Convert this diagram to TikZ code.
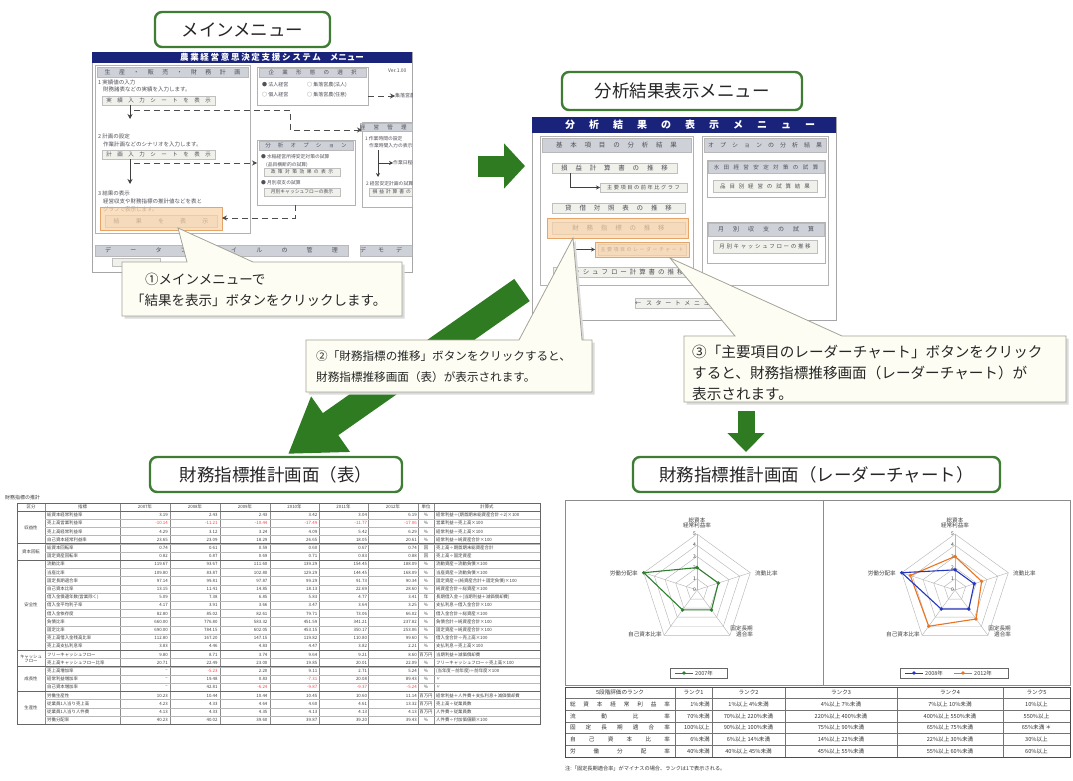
\documentclass[tikz,border=0pt]{standalone}
\usepackage{fontspec}
\setmainfont{Noto Sans CJK JP}
\usetikzlibrary{arrows.meta,calc,shadows}
\definecolor{tgreen}{HTML}{3F7D35}
\definecolor{agreen}{HTML}{2E7B22}
\definecolor{navyc}{HTML}{1A237A}
\definecolor{hdrc}{HTML}{CFD1D8}
\definecolor{btnc}{HTML}{F1F1EC}
\definecolor{orf}{HTML}{F8D3A8}
\definecolor{ord}{HTML}{E6A468}
\definecolor{cream}{HTML}{FDFDF4}
\definecolor{cgray}{HTML}{A3A396}
\definecolor{txg}{HTML}{50505A}
\definecolor{rblue}{HTML}{2536C0}
\definecolor{rorange}{HTML}{EA7420}
\definecolor{rgreen}{HTML}{2F7F2F}
\definecolor{gridc}{HTML}{B8B8B8}
\newcommand\fsz[1]{\fontsize{#1}{#1}\selectfont}
\newcommand\spc[2]{{\addfontfeature{LetterSpace=#1}#2}}
\newcommand\bx[7]{%
 \pgfmathsetmacro\bxw{#5-#3}\pgfmathsetmacro\bxh{#6-#4}%
 \pgfmathsetmacro\bxx{(#3+#5)/2}\pgfmathsetmacro\bxy{(#4+#6)/2}%
 \node[inner sep=0pt, outer sep=0pt, #1, minimum width=\bxw pt, minimum height=\bxh pt] (#2) at (\bxx,\bxy) {#7};}
\def\chkneg#1#2\relax{\ifx-#1\textcolor{red!75}{#1#2}\else#1#2\fi}
\newcommand\negred[1]{\expandafter\chkneg#1\relax}
\newcommand\rpoly[7]{%
 \draw[#2, line width=1.1pt, shift={(#1)}] (-90:{#3*11.2}) -- (-18:{#4*11.2}) -- (54:{#5*11.2}) -- (126:{#6*11.2}) -- (198:{#7*11.2}) -- cycle;
 \foreach \aa/\vv in {-90/#3,-18/#4,54/#5,126/#6,198/#7} \fill[#2, shift={(#1)}] (\aa:{\vv*11.2}) circle (1.9);}
\newcommand\rlabels[3]{%
 \node[rlab, align=center] (#1top) at (#2,#3-67) {総資本\\経常利益率};
 \node[rlab, anchor=west] (#1rt) at (#2+58,#3-17) {流動比率};
 \node[rlab, align=center, anchor=north west] (#1lr) at (#2+33,#3+36) {固定長期\\\hspace*{6pt}適合率};
 \node[rlab, anchor=east] (#1ll) at (#2-35,#3+44) {自己資本比率};
 \node[rlab, anchor=east] (#1lf) at (#2-59,#3-17) {労働分配率};
 \foreach \k in {0,...,5} \node[rlab, anchor=east, font=\fsz{5}] (#1tk\k) at (#2-1,#3-\k*11.2) {\k};}
\begin{document}
\begin{tikzpicture}[x=1pt,y=-1pt,
 title/.style={draw=tgreen, line width=2.4pt, rounded corners=7pt, fill=white, font=\fsz{17.5}, text=black!85},
 shot/.style={draw=gray!70, line width=0.8pt, fill=white},
 panel/.style={draw=gray!60, line width=0.6pt, fill=white},
 hdr/.style={fill=hdrc, draw=gray!55, line width=0.4pt, font=\fsz{6}, text=txg},
 sbtn/.style={fill=btnc, draw=gray!50, line width=0.4pt, font=\fsz{5.5}, text=txg, drop shadow={shadow xshift=0.9pt, shadow yshift=-0.9pt, fill=gray!75, opacity=1}},
 hilite/.style={fill=orf, fill opacity=0.7, draw=ord, line width=0.6pt},
 stxt/.style={font=\fsz{5.5}, text=txg, inner sep=0pt, anchor=west},
 dline/.style={dash pattern=on 6pt off 4pt, line width=0.9pt, draw=black!70},
 sline/.style={line width=0.9pt, draw=black!75},
 callout/.style={draw=cgray, line width=0.8pt, fill=cream},
 ctext/.style={anchor=west, inner sep=0pt, text=black!85},
 tcell/.style={font=\fsz{4.4}, text=black!75, inner sep=0pt},
 rcell/.style={font=\fsz{5.6}, text=black!80, inner sep=0pt},
 grid/.style={draw=gridc, line width=0.45pt},
 rlab/.style={font=\fsz{5.6}, text=black!75, inner sep=0pt},
]
\fill[white] (0,0) rectangle (1073,781);
\useasboundingbox (0,0) rectangle (1073,781);

% ---------- titles
\bx{title}{T1}{155}{12}{330}{47}{メインメニュー}
\bx{title}{T2}{562}{72}{802}{110}{分析結果表示メニュー}
\bx{title}{T3}{150}{457}{402}{492}{財務指標推計画面（表）}
\bx{title}{T4}{633}{457}{1000}{492}{財務指標推計画面（レーダーチャート）}

% ---------- big green arrows
\coordinate (ra1) at (478,166); \coordinate (ra2) at (525,166);
\draw[agreen, line width=21pt, -{Triangle[length=21pt,width=44pt]}] (ra1) -- (ra2);
\coordinate (da1) at (522,290); \coordinate (da2) at (288,454);
\draw[agreen, line width=27pt, -{Triangle[length=52pt,width=64pt]}] (da1) -- (da2);
\coordinate (dn1) at (746,411); \coordinate (dn2) at (746,452);
\draw[agreen, line width=17pt, -{Triangle[length=19pt,width=36pt]}] (dn1) -- (dn2);

% ---------- screenshot 1 : main menu
\bx{shot}{S1}{92}{52}{412}{272}{}
\begin{scope}
\clip (92,52) rectangle (412,272);
\bx{fill=navyc}{S1t}{92}{52}{412}{63}{}
\node[font=\fsz{8.5}\bfseries, text=white, inner sep=0pt] (S1tt) at (272,57.5) {\spc{20}{農業経営意思決定支援システム}\hspace{9pt}メニュー};
\node[stxt, font=\fsz{5}] (ver) at (388,71) {Ver.1.00};
% left panel
\bx{panel}{P1}{95}{65}{250}{233}{}
\bx{hdr}{P1h}{97}{67}{248}{77}{\spc{140}{生産・販売・財務計画}}
\node[stxt] (t11) at (98,82) {1 実績値の入力};
\node[stxt] (t12) at (103,89.5) {財務諸表などの実績を入力します。};
\bx{sbtn}{B1}{102}{96}{215}{105}{\spc{100}{実績入力シートを表示}}
\node[stxt] (t21) at (98,136) {2 計画の設定};
\node[stxt] (t22) at (103,144) {作業計画などのシナリオを入力します。};
\bx{sbtn}{B2}{102}{150}{215}{159}{\spc{100}{計画入力シートを表示}}
\node[stxt] (t31) at (98,193) {3 結果の表示};
\node[stxt] (t32) at (103,201.5) {経営収支や財務指標の推計値などを表と};
\node[stxt] (t33) at (103,209.5) {グラフで表示します。};
\bx{sbtn, font=\fsz{6}}{B3}{105}{215}{217}{227}{\spc{270}{結果を表示}}
\bx{hilite}{OB}{100}{207}{222}{230}{}
\coordinate (a1e) at (130,119);
\draw[sline,-{Stealth[length=5pt,width=5pt]}] (B1.south -| a1e) -- (a1e);
\coordinate (a2e) at (130,184);
\draw[sline,-{Stealth[length=5pt,width=5pt]}] (B2.south -| a2e) -- (a2e);
% panel: 企業形態
\bx{panel}{P2}{257}{67}{368}{105}{}
\bx{hdr, font=\fsz{5.5}}{P2h}{259}{68}{366}{77}{\spc{150}{企業形態の選択}}
\node[stxt, font=\fsz{5}] (r1) at (262,85) {● 法人経営};
\node[stxt, font=\fsz{5}] (r2) at (307,85) {○ 集落営農(法人)};
\node[stxt, font=\fsz{5}] (r3) at (262,95) {○ 個人経営};
\node[stxt, font=\fsz{5}] (r4) at (307,95) {○ 集落営農(任意)};
\node[stxt, font=\fsz{5}] (sel) at (395,96) {集落営農組織の選択};
\coordinate (d4y) at (0,96);
\draw[dline,-{Stealth[length=5pt,width=5pt]}] (P2.east |- d4y) -- (sel.west);
% panel: 分析オプション
\bx{panel}{P3}{257}{140}{355}{205}{}
\bx{hdr, font=\fsz{5.5}}{P3h}{259}{141}{353}{150}{\spc{130}{分析オプション}}
\node[stxt, font=\fsz{4.8}] (o1) at (261,157) {● 水稲経営所得安定対策の試算};
\node[stxt, font=\fsz{4.8}] (o2) at (266,164.5) {(品目横断的の試算)};
\bx{sbtn, font=\fsz{4.8}}{B4}{264}{168}{340}{176}{\spc{50}{政策対策効果の表示}}
\node[stxt, font=\fsz{4.8}] (o3) at (261,183) {● 月別収支の試算};
\bx{sbtn, font=\fsz{4.8}}{B5}{264}{188}{340}{196}{月別キャッシュフローの表示}
% panel: 経営管理計画
\bx{panel}{P4}{362}{122}{432}{207}{}
\bx{hdr, font=\fsz{5.5}}{P4h}{364}{123}{430}{131}{\spc{150}{経営管理計画}}
\node[stxt, font=\fsz{4.8}] (m1) at (365,139) {1 作業時間の設定};
\node[stxt, font=\fsz{4.8}] (m2) at (369,145.5) {作業時間入力の表示};
\node[stxt, font=\fsz{4.8}] (m3) at (393,163) {作業日程の確認};
\coordinate (p4a) at (378,150); \coordinate (p4b) at (378,177); \coordinate (p4c) at (378,163);
\draw[sline,-{Stealth[length=4pt,width=4pt]}] (p4a) -- (p4b);
\draw[sline,-{Stealth[length=4pt,width=4pt]}] (p4c) -- (m3.west);
\node[stxt, font=\fsz{4.8}] (m4) at (366,184) {2 経営安定計画の試算};
\bx{sbtn, font=\fsz{4.8}}{B6}{369}{188}{428}{196}{\spc{40}{損益計算書の表示}}
% bottom bars
\bx{hdr}{D1}{95}{245}{348}{256}{\spc{320}{データファイルの管理}}
\bx{hdr}{D2}{362}{245}{436}{256}{\spc{200}{デモデータ}}
\bx{sbtn}{B7}{112}{258}{160}{266}{}
% dashed connectors
\coordinate (d1s) at (134,110); \coordinate (d1m) at (290,130);
\draw[dline,-{Stealth[length=5pt,width=5pt]}] (d1s) -- (d1s -| d1m) -- (d1m) -- (d1m -| P4.west);
\coordinate (d2s) at (134,163);
\draw[dline,-{Stealth[length=5pt,width=5pt]}] (d2s) -- (d2s -| P3.west);
\coordinate (d3m) at (295,218);
\draw[dline,-{Stealth[length=5pt,width=5pt]}] (P3.south -| d3m) -- (d3m) -- (d3m -| OB.east);
\end{scope}

% ---------- screenshot 2 : analysis menu
\bx{shot}{S2}{532}{117}{836}{320}{}
\bx{fill=navyc}{S2t}{532}{117}{836}{133}{}
\node[font=\fsz{10}\bfseries, text=white, inner sep=0pt] (S2tt) at (690,125) {\spc{140}{分析結果の表示メニュー}};
\bx{panel}{Q0}{540}{136}{693}{285}{}
\bx{hdr, font=\fsz{6.5}}{Q0h}{542}{138}{691}{152}{\spc{120}{基本項目の分析結果}}
\bx{sbtn, font=\fsz{6.5}}{Q1}{552}{163}{677}{173}{\spc{120}{損益計算書の推移}}
\bx{sbtn, font=\fsz{5.2}}{Q1b}{600}{183}{687}{192}{\spc{30}{主要項目の前年比グラフ}}
\bx{sbtn, font=\fsz{6.5}}{Q2}{552}{203}{685}{213}{\spc{120}{貸借対照表の推移}}
\bx{sbtn, font=\fsz{6.5}}{Q3}{552}{222}{685}{234}{\spc{120}{財務指標の推移}}
\bx{hilite}{O1}{547}{218}{688}{238}{}
\bx{sbtn, font=\fsz{5}}{Q4}{598}{244}{686}{255}{\spc{30}{主要項目のレーダーチャート}}
\bx{hilite}{O2}{595}{242}{689}{257}{}
\bx{sbtn, font=\fsz{6.5}}{Q5}{553}{267}{685}{277}{\spc{45}{キャッシュフロー計算書の推移}}
\coordinate (q1a) at (570,187.5);
\draw[sline,-{Stealth[length=4pt,width=4pt]}] (Q1.south -| q1a) -- (q1a) -- (Q1b.west);
\coordinate (q3a) at (572,249.5);
\draw[sline,-{Stealth[length=4pt,width=4pt]}] (O1.south -| q3a) -- (q3a) -- (O2.west);
\bx{panel}{R0}{702}{136}{828}{285}{}
\bx{hdr, font=\fsz{6}}{R0h}{704}{138}{826}{152}{\spc{100}{オプションの分析結果}}
\bx{panel}{R1}{707}{160}{825}{197}{}
\bx{hdr, font=\fsz{5.5}}{R1h}{708}{161}{824}{173}{\spc{80}{水田経営安定対策の試算}}
\bx{sbtn, font=\fsz{5.5}}{R1b}{713}{180}{817}{192}{\spc{70}{品目別経営の試算結果}}
\bx{panel}{R2}{707}{222}{825}{263}{}
\bx{hdr, font=\fsz{6}}{R2h}{708}{223}{824}{236}{\spc{150}{月別収支の試算}}
\bx{sbtn, font=\fsz{5.5}}{R2b}{713}{240}{817}{253}{\spc{30}{月別キャッシュフローの推移}}
\bx{sbtn, font=\fsz{6}}{Q6}{637}{298}{727}{308}{\spc{60}{← スタートメニューへ}}

% ---------- callouts
\begin{scope}[shift={(2.5,2.5)}]
\fill[gray!28] (122,262) -- (187,262) -- (178,228) -- (253,262) -- (402,262) -- (402,316) -- (122,316) -- cycle;
\fill[gray!28] (306,340) -- (519,340) -- (573,238) -- (582,340) -- (592,340) -- (592,392) -- (306,392) -- cycle;
\fill[gray!28] (684,336) -- (735,336) -- (670,258) -- (842,336) -- (1066,336) -- (1066,402) -- (684,402) -- cycle;
\end{scope}
\draw[callout] (122,262) -- (187,262) -- (178,228) -- (253,262) -- (402,262) -- (402,316) -- (122,316) -- cycle;
\node[ctext, font=\fsz{13.5}] (c1a) at (145,279) {①メインメニューで};
\node[ctext, font=\fsz{13.5}] (c1b) at (131,300) {「結果を表示」ボタンをクリックします。};
\draw[callout] (306,340) -- (519,340) -- (573,238) -- (582,340) -- (592,340) -- (592,392) -- (306,392) -- cycle;
\node[ctext, font=\fsz{11.6}] (c2a) at (316,356) {②「財務指標の推移」ボタンをクリックすると、};
\node[ctext, font=\fsz{11.6}] (c2b) at (316,377) {財務指標推移画面（表）が表示されます。};
\draw[callout] (684,336) -- (735,336) -- (670,258) -- (842,336) -- (1066,336) -- (1066,402) -- (684,402) -- cycle;
\node[ctext, font=\fsz{14.6}] (c3a) at (692,352) {③「主要項目のレーダーチャート」ボタンをクリック};
\node[ctext, font=\fsz{14.6}] (c3b) at (692,373) {すると、財務指標推移画面（レーダーチャート）が};
\node[ctext, font=\fsz{14.6}] (c3c) at (692,394) {表示されます。};

% ---------- left table
\node[tcell, anchor=west, font=\fsz{5}] (tcap) at (5,498) {財務指標の推計};
\foreach \x in {45,120,170,220,270,319,368,418,434} \draw[black!45, line width=0.4pt] (\x,503) -- (\x,724.2);
\foreach \i in {1,...,25} \draw[black!28, line width=0.3pt] (45,{511+\i*8.2}) -- (540,{511+\i*8.2});
\foreach \i in {0,4,6,17,19,22} \draw[black!60, line width=0.7pt] (17,{511+\i*8.2}) -- (540,{511+\i*8.2});
\draw[black!60, line width=0.7pt] (17,503) rectangle (540,724.2);
\foreach \t/\x [count=\j] in {区分/31,指標/82.5,2007年/145,2008年/195,2009年/245,2010年/294.5,2011年/343.5,2012年/393,単位/426,計算式/487}
  \node[tcell] (H\j) at (\x,507) {\t};
\foreach \t/\y [count=\j] in {収益性/527.4,資本回転/552,安全性/605.3,{キャッシュ\\フロー}/658.6,成長性/679.1,生産性/707.8}
  \node[tcell, align=center] (G\j) at (31,\y) {\t};
\foreach \lbl/\vals/\unit/\fm [count=\i] in {
 総資本経常利益率/{3.19,2.43,2.43,3.42,3.04,6.19}/\%/経常利益÷(期首期末総資産合計÷2)×100,
 売上高営業利益率/{-10.14,-11.21,-10.44,-17.49,-11.77,-17.06}/\%/営業利益÷売上高×100,
 売上高経常利益率/{4.29,3.12,3.24,4.09,5.42,6.29}/\%/経常利益÷売上高×100,
 自己資本経常利益率/{23.65,23.09,18.29,26.65,18.05,20.61}/\%/経常利益÷純資産合計×100,
 総資本回転率/{0.74,0.61,0.59,0.60,0.67,0.74}/回/売上高÷期首期末総資産合計,
 固定資産回転率/{0.82,0.87,0.69,0.71,0.83,0.88}/回/売上高÷固定資産,
 流動比率/{119.67,93.67,111.60,139.29,154.45,188.09}/\%/流動資産÷流動負債×100,
 当座比率/{109.80,83.87,102.80,129.29,144.45,168.09}/\%/当座資産÷流動負債×100,
 固定長期適合率/{97.14,99.81,97.87,99.29,91.73,90.34}/\%/固定資産÷(純資産合計＋固定負債)×100,
 自己資本比率/{13.15,11.41,14.85,18.13,22.69,28.60}/\%/純資産合計÷総資産×100,
 借入金償還年数(営業除く)/{5.09,7.38,6.85,5.83,4.77,3.41}/年/長期借入金÷(当期利益＋減価償却費),
 借入金平均利子率/{4.17,3.91,3.66,3.47,3.64,3.25}/\%/支払利息÷借入金合計×100,
 借入金依存度/{82.80,85.02,82.61,79.71,73.06,66.02}/\%/借入金合計÷総資産×100,
 負債比率/{660.00,776.80,583.32,451.59,341.21,237.82}/\%/負債合計÷純資産合計×100,
 固定比率/{690.00,784.15,602.05,453.15,350.17,253.06}/\%/固定資産÷純資産合計×100,
 売上高借入金残高比率/{112.80,167.20,147.15,119.82,110.80,99.60}/\%/借入金合計÷売上高×100,
 売上高支払利息率/{3.83,4.46,4.83,4.47,3.82,2.21}/\%/支払利息÷売上高×100,
 フリーキャッシュフロー/{9.80,8.71,3.74,9.64,9.21,8.60}/百万円/当期利益＋減価償却費,
 売上高キャッシュフロー比率/{20.71,22.49,23.00,19.85,20.01,22.09}/\%/フリーキャッシュフロー÷売上高×100,
 売上高増加率/{–,-5.23,2.20,9.11,2.71,5.24}/\%/(当年度－前年度)÷前年度×100,
 経常利益増加率/{–,19.48,0.83,-7.31,20.08,89.43}/\%/〃,
 自己資本増加率/{–,42.81,-6.24,-9.87,-9.37,-5.24}/\%/〃,
 労働生産性/{10.23,10.44,10.44,10.45,10.60,11.14}/百万円/経常利益＋人件費＋支払利息＋減価償却費,
 従業員1人当り売上高/{4.23,4.33,4.64,4.60,4.61,13.32}/百万円/売上高÷従業員数,
 従業員1人当り人件費/{4.13,4.33,4.35,4.13,4.13,4.13}/百万円/人件費÷従業員数,
 労働分配率/{40.23,40.02,39.60,39.87,39.20,39.43}/\%/人件費÷付加価値額×100}{
  \pgfmathsetmacro\yc{511+(\i-0.5)*8.2}
  \node[tcell, anchor=west] (L\i) at (47,\yc) {\lbl};
  \foreach \v [count=\j] in \vals {
    \pgfmathsetmacro\xr{168+(\j-1)*49.8}
    \node[tcell, anchor=east] (V\i-\j) at (\xr,\yc) {\negred{\v}};}
  \node[tcell] (U\i) at (426,\yc) {\unit};
  \node[tcell, anchor=west] (F\i) at (436,\yc) {\fm};
}

% ---------- radar charts
\draw[black!45, line width=0.6pt] (565,500) rectangle (1070,685);
\draw[black!45, line width=0.6pt] (823,500) -- (823,685);
\coordinate (RC1) at (697,590);
\coordinate (RC2) at (955,590);
\foreach \c in {RC1,RC2}{
 \foreach \k in {1,...,5}{\pgfmathsetmacro\r{\k*11.2}
   \draw[grid, shift={(\c)}] (-90:\r) -- (-18:\r) -- (54:\r) -- (126:\r) -- (198:\r) -- cycle;}
 \foreach \a in {-90,-18,54,126,198} \draw[grid, shift={(\c)}] (0,0) -- (\a:56);
}
\rlabels{A}{697}{590}
\rlabels{B}{955}{590}
\rpoly{RC1}{rgreen}{2}{2}{2.2}{2.2}{5}
\rpoly{RC2}{rorange}{3}{2.5}{3.2}{4}{4.2}
\rpoly{RC2}{rblue}{1.8}{1.8}{2.1}{2.1}{5}
% legends
\bx{draw=black!60, line width=0.5pt, fill=white}{LgA}{670}{668}{727}{678}{}
\coordinate (lga1) at (675,673); \coordinate (lga2) at (693,673);
\draw[rgreen, line width=1pt] (lga1) -- (lga2); \fill[rgreen] ($(lga1)!0.5!(lga2)$) circle (1.8);
\node[rlab, anchor=west, font=\fsz{5.5}] (lgat) at (695,673) {2007年};
\bx{draw=black!60, line width=0.5pt, fill=white}{LgB}{900}{668}{1008}{678}{}
\coordinate (lgb1) at (905,673); \coordinate (lgb2) at (923,673);
\draw[rblue, line width=1pt] (lgb1) -- (lgb2); \fill[rblue] ($(lgb1)!0.5!(lgb2)$) circle (1.8);
\node[rlab, anchor=west, font=\fsz{5.5}] (lgbt) at (925,673) {2008年};
\coordinate (lgc1) at (954,673); \coordinate (lgc2) at (972,673);
\draw[rorange, line width=1pt] (lgc1) -- (lgc2); \fill[rorange] ($(lgc1)!0.5!(lgc2)$) circle (1.8);
\node[rlab, anchor=west, font=\fsz{5.5}] (lgct) at (974,673) {2012年};

% ---------- rank table
\foreach \x in {675,712,785,897,1003} \draw[black!55, line width=0.5pt] (\x,687) -- (\x,757);
\foreach \i in {1,...,5} \draw[black!55, line width=0.5pt] (565,{687+\i*11.67}) -- (1070,{687+\i*11.67});
\draw[black!70, line width=0.8pt] (565,687) rectangle (1070,757);
\foreach \a/\b/\c/\d/\e/\f [count=\i] in {
 {\hfill 5段階評価のランク\hfill}/ランク1/ランク2/ランク3/ランク4/ランク5,
 {総\hfill 資\hfill 本\hfill 経\hfill 常\hfill 利\hfill 益\hfill 率}/1\%未満/1\%以上 4\%未満/4\%以上 7\%未満/7\%以上 10\%未満/10\%以上,
 {流\hfill 動\hfill 比\hfill 率}/70\%未満/70\%以上 220\%未満/220\%以上 400\%未満/400\%以上 550\%未満/550\%以上,
 {固\hfill 定\hfill 長\hfill 期\hfill 適\hfill 合\hfill 率}/100\%以上/90\%以上 100\%未満/75\%以上 90\%未満/65\%以上 75\%未満/65\%未満 ＊,
 {自\hfill 己\hfill 資\hfill 本\hfill 比\hfill 率}/6\%未満/6\%以上 14\%未満/14\%以上 22\%未満/22\%以上 30\%未満/30\%以上,
 {労\hfill 働\hfill 分\hfill 配\hfill 率}/40\%未満/40\%以上 45\%未満/45\%以上 55\%未満/55\%以上 60\%未満/60\%以上}{
  \pgfmathsetmacro\yc{687+(\i-0.5)*11.67}
  \node[rcell] (rtA\i) at (620,\yc) {\makebox[100pt]{\a}};
  \ifnum\i=1 \node[rcell] (rtB\i) at (693.5,\yc) {\b}; \else \node[rcell, anchor=east] (rtB\i) at (710,\yc) {\b}; \fi
  \node[rcell] (rtC\i) at (748.5,\yc) {\c};
  \node[rcell] (rtD\i) at (841,\yc) {\d};
  \node[rcell] (rtE\i) at (950,\yc) {\e};
  \node[rcell] (rtF\i) at (1036.5,\yc) {\f};
}
\node[rcell, anchor=west, font=\fsz{5.2}] (rnote) at (565,769) {注:「固定長期適合率」がマイナスの場合、ランクは1で表示される。};
\end{tikzpicture}
\end{document}
